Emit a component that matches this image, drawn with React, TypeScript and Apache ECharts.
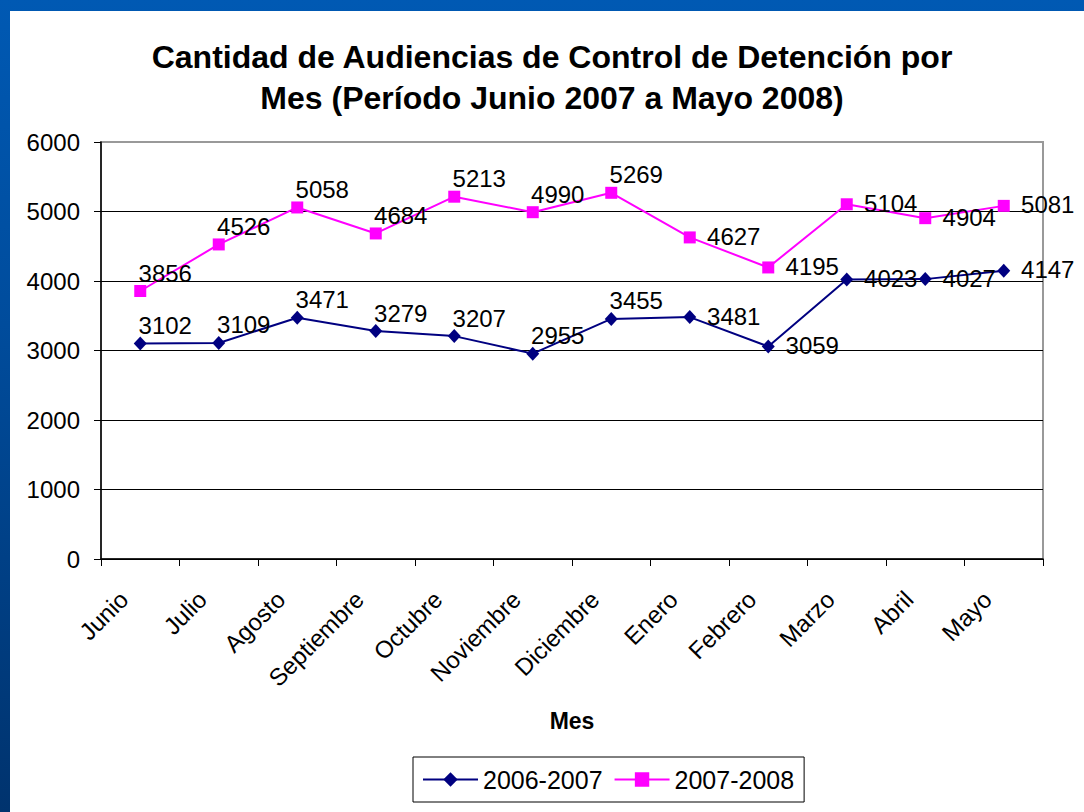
import React, { useEffect, useRef } from "react";
import * as echarts from "echarts";

const months = ["Junio", "Julio", "Agosto", "Septiembre", "Octubre", "Noviembre", "Diciembre", "Enero", "Febrero", "Marzo", "Abril", "Mayo"];
const serie2006 = [3102, 3109, 3471, 3279, 3207, 2955, 3455, 3481, 3059, 4023, 4027, 4147];
const serie2007 = [3856, 4526, 5058, 4684, 5213, 4990, 5269, 4627, 4195, 5104, 4904, 5081];
const seriesNames = ["2006-2007", "2007-2008"];
const yTicks = { min: 0, max: 6000, interval: 1000 };
const titleLines = ["Cantidad de Audiencias de Control de Detención por", "Mes (Período Junio 2007 a Mayo 2008)"];
const xName = "Mes";

const FONT = "'Liberation Sans', Arial, sans-serif";

const labelUpper = { show: true, position: "inside", offset: [25, -18], color: "#000", fontSize: 24, fontFamily: FONT };
const labelRight = { show: true, position: "inside", offset: [44, -1], color: "#000", fontSize: 24, fontFamily: FONT };

function withLabels(values: number[]) {
  return values.map((v, i) => ({ value: v, label: i < 7 ? labelUpper : labelRight }));
}

export default function App() {
  const ref = useRef<HTMLDivElement>(null);
  useEffect(() => {
    document.body.style.margin = "0";
    if (!ref.current) return;
    const chart = echarts.init(ref.current, undefined, { renderer: "svg" });
    chart.setOption({
      animation: false,
      backgroundColor: "transparent",
      textStyle: { fontFamily: FONT },
      graphic: [
        { type: "rect", z: -10, shape: { x: 10, y: 11, width: 1074, height: 801 }, style: { fill: "#ffffff" }, silent: true },
        { type: "text", x: 552, y: 57, style: { text: titleLines[0], font: `bold 32px ${FONT}`, fill: "#000", textAlign: "center", textVerticalAlign: "middle" } },
        { type: "text", x: 552, y: 98, style: { text: titleLines[1], font: `bold 32px ${FONT}`, fill: "#000", textAlign: "center", textVerticalAlign: "middle" } },
      ],
      grid: { left: 101, top: 142, width: 942, height: 417, show: true, borderColor: "#999", borderWidth: 2, backgroundColor: "transparent" },
      legend: {
        left: 413,
        top: 757,
        padding: [10, 10, 10, 9],
        itemGap: 11,
        itemWidth: 55,
        itemHeight: 18,
        borderColor: "#000",
        borderWidth: 1,
        textStyle: { fontSize: 25, color: "#000", fontFamily: FONT },
        data: seriesNames,
      },
      xAxis: {
        type: "category",
        data: months,
        boundaryGap: true,
        name: xName,
        nameLocation: "middle",
        nameGap: 162,
        nameTextStyle: { fontSize: 23, fontWeight: "bold", color: "#000", fontFamily: FONT, verticalAlign: "middle" },
        axisLine: { lineStyle: { color: "#000", width: 1.5 } },
        axisTick: { show: true, length: 7, lineStyle: { color: "#000" } },
        axisLabel: { interval: 0, rotate: 45, margin: 20, padding: [0, 23, 0, 0], fontSize: 24, color: "#000", fontFamily: FONT },
        splitLine: { show: false },
      },
      yAxis: {
        type: "value",
        min: yTicks.min,
        max: yTicks.max,
        interval: yTicks.interval,
        axisLine: { show: true, lineStyle: { color: "#000", width: 1.5 } },
        axisTick: { show: true, length: 7, lineStyle: { color: "#000" } },
        axisLabel: { margin: 21, fontSize: 24, color: "#000", fontFamily: FONT, formatter: (v: number) => String(v) },
        splitLine: { show: true, lineStyle: { color: ["#000", "#000", "#000", "#000", "#000", "#000", "#999"], width: 1 } },
      },
      series: [
        {
          name: seriesNames[0],
          type: "line",
          data: withLabels(serie2006),
          symbol: "diamond",
          symbolSize: [13, 14],
          lineStyle: { color: "#000080", width: 2 },
          itemStyle: { color: "#000080" },
          z: 3,
        },
        {
          name: seriesNames[1],
          type: "line",
          data: withLabels(serie2007),
          symbol: "rect",
          symbolSize: 12,
          lineStyle: { color: "#FF00FF", width: 2 },
          itemStyle: { color: "#FF00FF" },
          z: 3,
        },
      ],
    });
    return () => chart.dispose();
  }, []);
  return (
    <div style={{ position: "fixed", left: 0, top: 0, width: 1084, height: 812, background: "linear-gradient(to bottom, #0059b3 0%, #004c9c 40%, #00336e 100%)" }}>
      <div ref={ref} style={{ width: 1084, height: 812 }} />
    </div>
  );
}
